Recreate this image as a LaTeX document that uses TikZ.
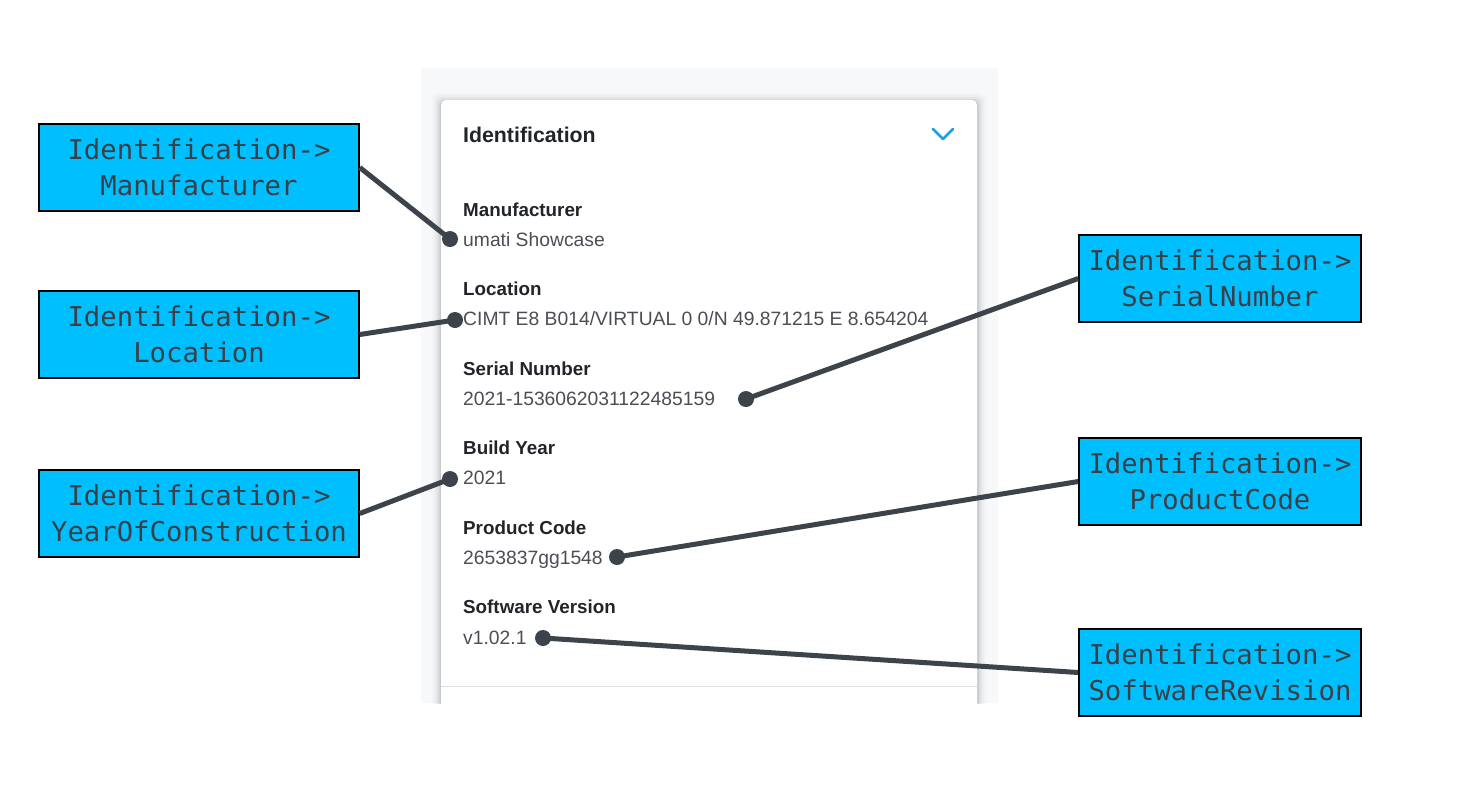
\documentclass[tikz,border=0pt]{standalone}
\usepackage{fontspec}
\setmainfont{Liberation Sans}
\newfontfamily\boxfont{DejaVu Sans Mono}
\definecolor{tagblue}{HTML}{00BFFF}
\definecolor{tagtext}{HTML}{3C4046}
\definecolor{wire}{HTML}{3D434B}
\definecolor{panelgray}{HTML}{F7F8F9}
\definecolor{labeltext}{HTML}{212529}
\definecolor{valuetext}{HTML}{4A4F55}
\definecolor{chevron}{HTML}{1AA3E0}
\tikzset{
  tag/.style={draw=black, line width=1.5pt, fill=tagblue, text=tagtext,
    minimum height=87pt, align=center, inner sep=0pt,
    font=\boxfont\fontsize{27.3pt}{36pt}\selectfont},
  lefttag/.style={tag, minimum width=320pt},
  righttag/.style={tag, minimum width=282pt},
  pin/.style={circle, fill=wire, minimum size=16pt, inner sep=0pt},
  wirestyle/.style={wire, line width=5pt},
  fieldlabel/.style={anchor=base west, inner sep=0pt, text=labeltext,
    font=\bfseries\fontsize{18.8pt}{22pt}\selectfont},
  fieldvalue/.style={anchor=base west, inner sep=0pt, text=valuetext,
    font=\fontsize{19.3pt}{22pt}\selectfont},
}
\begin{document}
\begin{tikzpicture}[x=1pt, y=-1pt]
\useasboundingbox (0,0) rectangle (1459,804);
% panel and card
\fill[panelgray] (421,68) rectangle (998,703);
\begin{scope}
\clip (421,68) rectangle (998,703);
\foreach \s/\o in {9/0.015, 7/0.025, 5/0.035, 3/0.05, 1.5/0.07}
  \fill[black, opacity=\o, rounded corners=6pt] (441-\s,100-\s+2) rectangle (977+\s,720+\s);
\fill[white, rounded corners=5pt] (441,100) rectangle (977,720);
\end{scope}
\draw[gray!25, line width=1pt] (441,686.5) -- (977,686.5);
% card content
\node[anchor=base west, inner sep=0pt, text=labeltext,
  font=\bfseries\fontsize{21.3pt}{24pt}\selectfont] (title) at (463,142) {Identification};
\draw[chevron, line width=2.6pt, line cap=round, line join=round] (933,129) -- (943,139) -- (953,129);
\node[fieldlabel] (lmanu) at (463,216) {Manufacturer};
\node[fieldvalue] (vmanu) at (463,246) {umati Showcase};
\node[fieldlabel] (lloc) at (463,295) {Location};
\node[fieldvalue] (vloc) at (463,325) {CIMT E8 B014/VIRTUAL 0 0/N 49.871215 E 8.654204};
\node[fieldlabel] (lserial) at (463,375) {Serial Number};
\node[fieldvalue] (vserial) at (463,405) {2021-1536062031122485159};
\node[fieldlabel] (lyear) at (463,454) {Build Year};
\node[fieldvalue] (vyear) at (463,484) {2021};
\node[fieldlabel] (lcode) at (463,534) {Product Code};
\node[fieldvalue] (vcode) at (463,564) {2653837gg1548};
\node[fieldlabel] (lsoft) at (463,613) {Software Version};
\node[fieldvalue] (vsoft) at (463,644) {v1.02.1};
% tags
\node[lefttag] (tmanu) at (199,167.5) {Identification->\\Manufacturer};
\node[lefttag] (tloc) at (199,334.5) {Identification->\\Location};
\node[lefttag] (tyear) at (199,513.5) {Identification->\\YearOfConstruction};
\node[righttag] (tserial) at (1220,278.5) {Identification->\\SerialNumber};
\node[righttag] (tcode) at (1220,481.5) {Identification->\\ProductCode};
\node[righttag] (tsoft) at (1220,672.5) {Identification->\\SoftwareRevision};
% pins
\node[pin] (pmanu) at (450,239) {};
\node[pin] (ploc) at (455,320) {};
\node[pin] (pserial) at (746,399) {};
\node[pin] (pyear) at (450,479) {};
\node[pin] (pcode) at (617,557) {};
\node[pin] (psoft) at (543,638) {};
% wires
\draw[wirestyle] (tmanu.east) -- (pmanu.center);
\draw[wirestyle] (tloc.east) -- (ploc.center);
\draw[wirestyle] (tyear.east) -- (pyear.center);
\draw[wirestyle] (tserial.west) -- (pserial.center);
\draw[wirestyle] (tcode.west) -- (pcode.center);
\draw[wirestyle] (tsoft.west) -- (psoft.center);
\end{tikzpicture}
\end{document}
